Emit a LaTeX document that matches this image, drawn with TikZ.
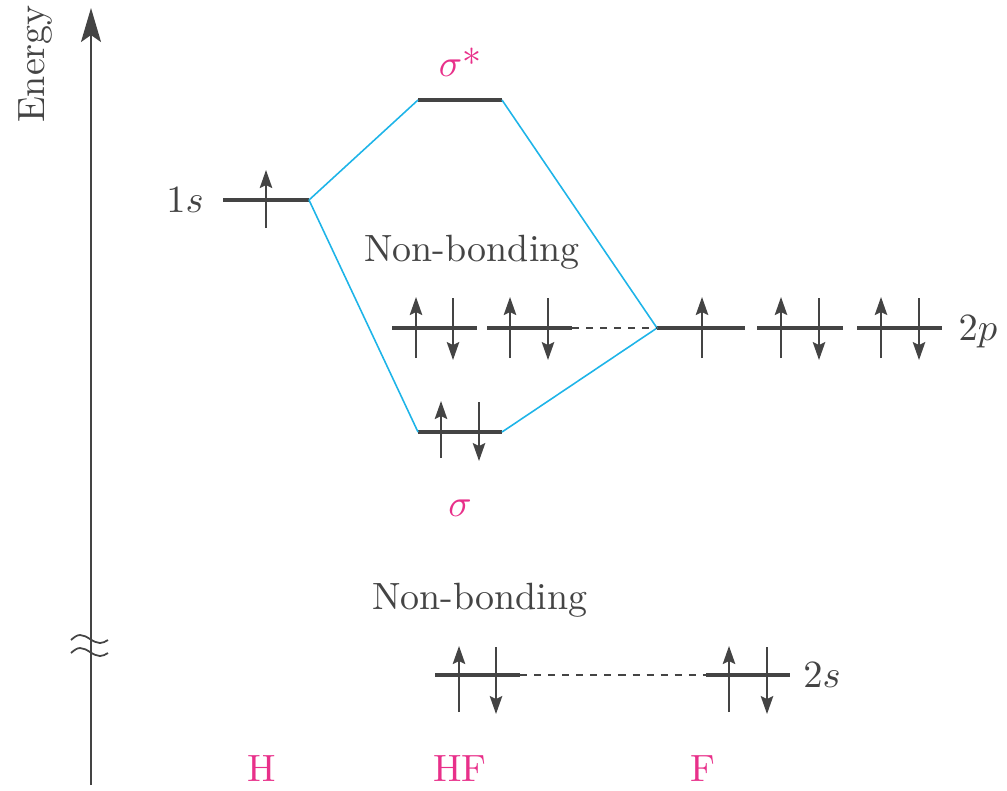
\documentclass[tikz,border=0pt]{standalone}
\usetikzlibrary{arrows.meta}
\definecolor{mopink}{RGB}{232,48,138}
\definecolor{moblue}{RGB}{30,180,232}
\definecolor{modark}{RGB}{68,68,68}

\begin{document}
\begin{tikzpicture}[x=0.01cm,y=-0.01cm,font=\fontsize{10.8}{13}\selectfont,line cap=butt,
  level/.style={modark,line width=0.9pt},
  spin/.style={modark,line width=0.5pt,-{Stealth[length=1.8mm,width=1.25mm,inset=0.3mm]}},
  link/.style={moblue,line width=0.45pt},
  nblink/.style={modark,line width=0.4pt,dash pattern=on 2pt off 2pt},
  axis/.style={modark,line width=0.5pt,-{Stealth[length=3.4mm,width=2mm,inset=0.7mm]}},
  pinklabel/.style={text=mopink}]
\useasboundingbox (0,0) rectangle (1007,790);
% energy axis with break
\coordinate (axb) at (91,785);
\coordinate (axt) at (91,8);
\draw[axis] (axb) -- (axt);
\node[rotate=90,modark] (energy) at (35,64) {Energy};
\draw[modark,line width=0.5pt] (71,640) sin (80,635) cos (90,639) sin (100,643) cos (108,640);
\draw[modark,line width=0.5pt] (71,653) sin (80,648) cos (90,652) sin (100,656) cos (108,653);
% H 1s
\coordinate (h1L) at (223,200);
\coordinate (h1R) at (309,200);
\draw[level] (h1L) -- (h1R);
\draw[spin] (266,228) -- (266,170);
\node[modark] (h1lab) at (185,200) {$1s$};
% HF sigma*
\coordinate (sgsL) at (418,100);
\coordinate (sgsR) at (502,100);
\draw[level] (sgsL) -- (sgsR);
\node[pinklabel] (sgslab) at (460,62) {$\sigma$*};
% HF sigma
\coordinate (sgL) at (418,432);
\coordinate (sgR) at (502,432);
\draw[level] (sgL) -- (sgR);
\draw[spin] (441,458) -- (441,401);
\draw[spin] (479,402) -- (479,461);
\node[pinklabel] (sglab) at (460,508) {$\sigma$};
% HF non-bonding 2p
\coordinate (nbaL) at (392,328);
\coordinate (nbaR) at (477,328);
\coordinate (nbbL) at (487,328);
\coordinate (nbbR) at (572,328);
\draw[level] (nbaL) -- (nbaR);
\draw[level] (nbbL) -- (nbbR);
\draw[spin] (416,358) -- (416,297);
\draw[spin] (453,298) -- (453,360);
\draw[spin] (510,358) -- (510,297);
\draw[spin] (548,298) -- (548,360);
\node[modark] (nbtop) at (472,252) {Non-bonding};
% F 2p
\coordinate (fpaL) at (657,328);
\coordinate (fpaR) at (745,328);
\coordinate (fpbL) at (757,328);
\coordinate (fpbR) at (843,328);
\coordinate (fpcL) at (857,328);
\coordinate (fpcR) at (942,328);
\draw[level] (fpaL) -- (fpaR);
\draw[level] (fpbL) -- (fpbR);
\draw[level] (fpcL) -- (fpcR);
\draw[spin] (702,358) -- (702,297);
\draw[spin] (781,358) -- (781,297);
\draw[spin] (819,298) -- (819,360);
\draw[spin] (881,358) -- (881,297);
\draw[spin] (919,298) -- (919,360);
\node[modark] (fplab) at (978,332) {$2p$};
% correlation lines
\draw[link] (h1R) -- (sgsL);
\draw[link] (sgsR) -- (fpaL);
\draw[link] (h1R) -- (sgL);
\draw[link] (sgR) -- (fpaL);
\draw[nblink] (nbbR) -- (fpaL);
% 2s
\coordinate (hfsL) at (435,675);
\coordinate (hfsR) at (520,675);
\coordinate (fsL) at (706,675);
\coordinate (fsR) at (790,675);
\draw[level] (hfsL) -- (hfsR);
\draw[level] (fsL) -- (fsR);
\draw[spin] (459,712) -- (459,646);
\draw[spin] (496,647) -- (496,714);
\draw[spin] (729,712) -- (729,646);
\draw[spin] (767,647) -- (767,714);
\draw[nblink] (hfsR) -- (fsL);
\node[modark] (fslab) at (822,675) {$2s$};
\node[modark] (nbbot) at (480,600) {Non-bonding};
% species
\node[pinklabel] (hlab) at (262,769) {H};
\node[pinklabel] (hflab) at (460,769) {HF};
\node[pinklabel] (flab) at (703,769) {F};
\end{tikzpicture}
\end{document}
